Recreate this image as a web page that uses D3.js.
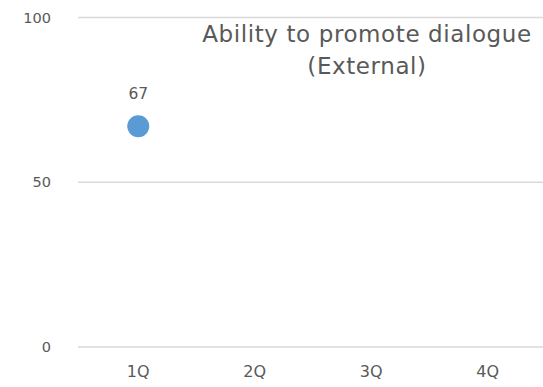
<!DOCTYPE html>
<html>
<head>
<meta charset="utf-8">
<script src="https://cdn.jsdelivr.net/npm/d3@7"></script>
<style>
  html, body { margin: 0; padding: 0; background: #fff; }
  svg { display: block; }
  text { font-family: "DejaVu Sans", sans-serif; fill: #595959; }
</style>
</head>
<body>
<svg id="chart" width="543" height="387"></svg>
<script>
// Quarterly score, only 1Q reported so far
const quarters = ["1Q", "2Q", "3Q", "4Q"];
const scores = [67, null, null, null];
const yTicks = [0, 50, 100];
const titleLines = ["Ability to promote dialogue", "(External)"];

const W = 543, H = 387;
const margin = { top: 17, right: -3, bottom: 40, left: 80 };

const svg = d3.select("#chart");

const x = d3.scaleBand()
  .domain(quarters)
  .range([margin.left, W - margin.right])
  .paddingInner(0).paddingOuter(0);

const y = d3.scaleLinear()
  .domain([0, 100])
  .range([347, margin.top + 0.5]);

// horizontal gridlines
svg.append("g")
  .selectAll("line")
  .data(yTicks)
  .join("line")
  .attr("x1", margin.left - 2)
  .attr("x2", W)
  .attr("y1", d => y(d))
  .attr("y2", d => y(d))
  .attr("stroke", "#d9d9d9")
  .attr("stroke-width", 1.5);

// y axis labels
const yAxis = d3.axisLeft(y).tickValues(yTicks).tickSize(0).tickPadding(0);
const gy = svg.append("g").attr("transform", "translate(51,0)").call(yAxis);
gy.select(".domain").remove();
gy.selectAll("text")
  .style("font-family", "DejaVu Sans, sans-serif")
  .style("font-size", "14.5px")
  .attr("fill", "#595959");

// x axis labels
const xAxis = d3.axisBottom(x).tickSize(0).tickPadding(0);
const gx = svg.append("g").attr("transform", "translate(0,366)").call(xAxis);
gx.select(".domain").remove();
gx.selectAll("text")
  .style("font-family", "DejaVu Sans, sans-serif")
  .style("font-size", "16px")
  .attr("fill", "#595959");

// points
const pts = quarters.map((q, i) => ({ q, v: scores[i] })).filter(d => d.v != null);

svg.append("g")
  .selectAll("circle")
  .data(pts)
  .join("circle")
  .attr("cx", d => x(d.q) + x.bandwidth() / 2)
  .attr("cy", d => y(d.v))
  .attr("r", 11)
  .attr("fill", "#5b9bd5");

// value labels
svg.append("g")
  .selectAll("text")
  .data(pts)
  .join("text")
  .attr("x", d => x(d.q) + x.bandwidth() / 2)
  .attr("y", d => y(d.v) - 27)
  .attr("text-anchor", "middle")
  .style("font-size", "15.5px")
  .text(d => d.v);

// title
svg.append("g")
  .selectAll("text")
  .data(titleLines)
  .join("text")
  .attr("x", 367)
  .attr("y", (d, i) => 42 + i * 32)
  .attr("text-anchor", "middle")
  .style("font-size", "23px")
  .style("letter-spacing", "0.6px")
  .text(d => d);
</script>
</body>
</html>
